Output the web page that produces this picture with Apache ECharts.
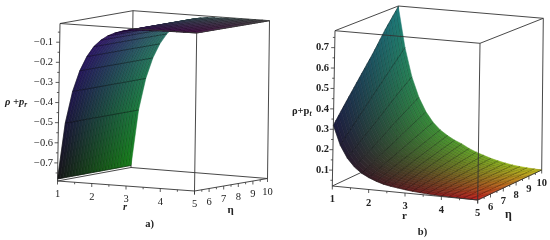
<!DOCTYPE html>
<html><head><meta charset="utf-8">
<style>html,body{margin:0;padding:0;background:#fff}#c{width:550px;height:240px;filter:blur(0.35px)}</style>
<script src="https://cdn.jsdelivr.net/npm/echarts@6/dist/echarts.min.js"></script>
</head><body><div id="c"></div>
<script>
// ---- values ----
const rValues = [1,1.2,1.4,1.6,1.8,2,2.2,2.4,2.6,2.8,3,3.2,3.4,3.6,3.8,4,4.2,4.4,4.6,4.8,5];
const rTicks = [1,2,3,4,5];
const etaTicks = [5,6,7,8,9,10];
const etaColumnsA = [5,10];
const etaColumnsB = [5,6,7,8,9,10];
const zTicksA = [-0.7,-0.6,-0.5,-0.4,-0.3,-0.2,-0.1];
const zTicksB = [0.1,0.2,0.3,0.4,0.5,0.6,0.7];
// panel a: rho + p_r against r (no visible change along eta)
const surfaceA = [-0.78,-0.50,-0.34,-0.235,-0.162,-0.11,-0.076,-0.052,-0.036,-0.025,-0.018,-0.014,-0.012,-0.011,-0.010,-0.009,-0.0085,-0.008,-0.0075,-0.0072,-0.007];
// panel b: rho + p_t, one row per r, one column per eta
const surfaceB = [
 [.32,.41,.50,.59,.69,.78],
 [.225,.295,.365,.435,.505,.575],
 [.165,.22,.27,.325,.38,.43],
 [.125,.165,.205,.25,.29,.33],
 [.098,.13,.162,.195,.228,.26],
 [.08,.106,.132,.158,.184,.21],
 [.066,.088,.11,.131,.153,.175],
 [.055,.074,.093,.112,.131,.15],
 [.048,.064,.081,.097,.114,.13],
 [.043,.057,.071,.086,.10,.115],
 [.038,.05,.062,.073,.084,.095],
 [.034,.044,.053,.062,.071,.08],
 [.031,.038,.046,.053,.061,.068],
 [.028,.034,.04,.045,.051,.056],
 [.026,.03,.035,.039,.043,.047],
 [.025,.028,.031,.033,.036,.039],
 [.024,.026,.028,.03,.031,.033],
 [.0235,.025,.026,.027,.028,.029],
 [.023,.024,.024,.025,.025,.026],
 [.0225,.023,.023,.023,.024,.024],
 [.022,.022,.022,.022,.022,.022]
];

// ---- view of each box: where its eight corners fall ----
const F = '"Liberation Serif","DejaVu Serif",serif';
const panels = [
 { rows: surfaceA.map(v => [v, v]), etas: etaColumnsA, strips: 25, zRange: [-0.79,-0.007], zTicks: zTicksA,
   zMinor: 0.05, zLabelX: 53, minus: true, gain: [105,60], ambient: 22, rowAlpha: 0.6, stripeAlpha: 0.42, bold: '',
   box: { b: [[57.5,181],[194.5,191],[267.5,178.5],[131,167.5]], t: [[60,23.5],[196.7,33],[269.5,20.7],[133,10.7]] },
   texts: [
    { text:'{m|\u03c1 +}{m|p}{s|r}', x:5, y:102 },
    { text:'{m|r}', x:125, y:207, align:'center' },
    { text:'\u03b7', x:230.5, y:210.5, align:'center', font:'bold 11px '+F },
    { text:'a)', x:149.5, y:224.5, align:'center', font:'bold 10.5px '+F }
   ] },
 { rows: surfaceB, etas: etaColumnsB, strips: 5, zRange: [0.022,0.783], zTicks: zTicksB,
   zMinor: 0.05, zLabelX: 329, minus: false, gain: [95,170], ambient: 28, rowAlpha: 0.45, stripeAlpha: 0.36, bold: 'bold ',
   box: { b: [[332.3,186],[477.7,200],[541.7,170],[396.3,156]], t: [[335,30.7],[480,43.3],[543.3,18.3],[398.3,6]] },
   texts: [
    { text:'{b|\u03c1+}{b|p}{t|t}', x:292, y:111.5 },
    { text:'r', x:404.5, y:216, align:'center', font:'bold 11px '+F },
    { text:'\u03b7', x:508.5, y:215, align:'center', font:'bold 12px '+F },
    { text:'b)', x:422.5, y:232.5, align:'center', font:'bold 10.5px '+F }
   ] }
];

const lerp = (a,b,t) => a + (b-a)*t;
function project(p, r, eta, z) {
  const u = (r-1)/4, v = (eta-5)/5, w = (z-p.zRange[0])/(p.zRange[1]-p.zRange[0]);
  const bi = c => [0,1].map(k => lerp(lerp(c[0][k],c[1][k],u), lerp(c[3][k],c[2][k],u), v));
  const a = bi(p.box.b), b = bi(p.box.t);
  return [lerp(a[0],b[0],w), lerp(a[1],b[1],w)];
}
const hex = x => Math.max(0,Math.min(255,Math.round(x)));
function shade(p, r, eta, z) {
  const u=(r-1)/4, v=(eta-5)/5, w=Math.max(0,(z-p.zRange[0])/(p.zRange[1]-p.zRange[0]));
  const g = lerp(p.gain[0],p.gain[1],u), a=p.ambient;
  return `rgb(${hex(a+g*u)},${hex(a+g*v)},${hex(a+g*w)})`;
}

function surfaceSeries(p) {
  const data = [];
  // painted from the far corner (low r, high eta) to the near corner
  for (let i=0;i<rValues.length-1;i++)
    for (let j=p.etas.length-2;j>=0;j--)
      for (let s=p.strips-1;s>=0;s--) data.push([i,j,s]);
  return { type:'custom', coordinateSystem:'cartesian2d', clip:false, silent:true, z:3, animation:false,
    data, encode:{x:0,y:1},
    renderItem(params, api) {
      const i=api.value(0), j=api.value(1), s=api.value(2);
      const pt = (ri,f) => {
        const eta = lerp(p.etas[j],p.etas[j+1],f);
        const z = lerp(p.rows[ri][j],p.rows[ri][j+1],f);
        return api.coord(project(p,rValues[ri],eta,z));
      };
      const f0=s/p.strips, f1=(s+1)/p.strips;
      const A=pt(i,f0),B=pt(i+1,f0),C=pt(i+1,f1),D=pt(i,f1);
      const mid=(f0+f1)/2;
      const etaM=lerp(p.etas[j],p.etas[j+1],mid);
      const c0=shade(p,rValues[i],etaM,lerp(p.rows[i][j],p.rows[i][j+1],mid));
      const c1=shade(p,rValues[i+1],etaM,lerp(p.rows[i+1][j],p.rows[i+1][j+1],mid));
      const m0=[(A[0]+D[0])/2,(A[1]+D[1])/2], m1=[(B[0]+C[0])/2,(B[1]+C[1])/2];
      const fill=new echarts.graphic.LinearGradient(m0[0],m0[1],m1[0],m1[1],
        [{offset:0,color:c0},{offset:1,color:c1}],true);
      return {type:'group',children:[
        {type:'polygon',shape:{points:[A,B,C,D]},style:{fill,stroke:fill,lineWidth:0.5}},
        {type:'line',shape:{x1:A[0],y1:A[1],x2:B[0],y2:B[1]},style:{stroke:`rgba(0,0,0,${p.stripeAlpha})`,lineWidth:1}},
        {type:'line',shape:{x1:A[0],y1:A[1],x2:D[0],y2:D[1]},style:{stroke:`rgba(0,0,0,${p.rowAlpha})`,lineWidth:0.8}}
      ]};
    } };
}

function lineSeries(segs, z, stroke, width) {
  return { type:'custom', coordinateSystem:'cartesian2d', clip:false, silent:true, z, animation:false,
    data: segs.map((s,i)=>[i,0]), encode:{x:0,y:1},
    renderItem(params, api) {
      const s=segs[api.value(0)], a=api.coord(s[0]), b=api.coord(s[1]);
      return {type:'line',shape:{x1:a[0],y1:a[1],x2:b[0],y2:b[1]},style:{stroke,lineWidth:width}};
    } };
}

function textSeries(items, z) {
  return { type:'custom', coordinateSystem:'cartesian2d', clip:false, silent:true, z, animation:false,
    data: items.map((s,i)=>[i,0]), encode:{x:0,y:1},
    renderItem(params, api) {
      const s=items[api.value(0)], a=api.coord([s.x,s.y]);
      return {type:'text',style:{text:s.text,x:a[0],y:a[1],align:s.align||'left',verticalAlign:'middle',
        font:s.font||('10.5px '+F),fill:s.fill||'#222',
        rich:{m:{font:'italic bold 10.5px '+F,fill:'#222'},s:{font:'italic bold 7.5px '+F,fill:'#222',verticalAlign:'bottom',padding:[6,0,0,0]},
              b:{font:'bold 10.5px '+F,fill:'#222'},t:{font:'italic bold 7.5px '+F,fill:'#222',padding:[6,0,0,0]}}}};
    } };
}

const series = [];
panels.forEach(p => {
  const [z0,z1]=p.zRange, P=(r,e,z)=>project(p,r,e,z);
  const back=[[P(1,10,z0),P(1,10,z1)],[P(1,10,z0),P(5,10,z0)],[P(1,5,z0),P(1,10,z0)],
              [P(1,5,z1),P(1,10,z1)],[P(1,10,z1),P(5,10,z1)],[P(5,10,z0),P(5,10,z1)]];
  const front=[[P(1,5,z1),P(5,5,z1)],[P(5,5,z1),P(5,10,z1)],[P(5,5,z0),P(5,5,z1)],
               [P(1,5,z0),P(5,5,z0)],[P(5,5,z0),P(5,10,z0)],[P(1,5,z0),P(1,5,z1)]];
  const ticks=[], labels=[];
  const minorZ=[];
  for (let k=Math.ceil(z0/p.zMinor);k*p.zMinor<=z1;k++) minorZ.push(k*p.zMinor);
  minorZ.forEach(z=>{
    const a=P(1,5,z), major=Math.abs(z*10-Math.round(z*10))<1e-6;
    ticks.push([a,[a[0]-(major?3.5:2),a[1]]]);
  });
  p.zTicks.forEach(z=>{
    const a=P(1,5,z);
    labels.push({text:(p.minus?'\u2212':'')+Math.abs(z).toFixed(1),x:p.zLabelX,y:a[1],align:'right',font:p.bold+'10.5px '+F});
  });
  rTicks.forEach((r,i)=>{
    const a=P(r,5,z0); ticks.push([a,[a[0],a[1]+3.5]]);
    if(i<rTicks.length-1){const m=P(r+.5,5,z0); ticks.push([m,[m[0],m[1]+2]]);}
    labels.push({text:String(r),x:a[0],y:a[1]+13.5,align:'center',font:p.bold+'10.5px '+F});
  });
  etaTicks.forEach((e,i)=>{
    const a=P(5,e,z0); ticks.push([a,[a[0],a[1]+3.5]]);
    if(i<etaTicks.length-1){const m=P(5,e+.5,z0); ticks.push([m,[m[0],m[1]+2]]);}
    if(e>5) labels.push({text:String(e),x:a[0],y:a[1]+13.5,align:'center',font:p.bold+'10.5px '+F});
  });
  series.push(lineSeries(back,1,'#333',0.9));
  series.push(surfaceSeries(p));
  series.push(lineSeries(front,5,'#333',0.9));
  series.push(lineSeries(ticks,5,'#333',0.8));
  series.push(textSeries(labels.concat(p.texts),6));
});

const chart = echarts.init(document.getElementById('c'),null,{renderer:'canvas'});
chart.setOption({
  animation:false, backgroundColor:'#fff',
  grid:{left:0,right:0,top:0,bottom:0},
  xAxis:{type:'value',min:0,max:550,show:false},
  yAxis:{type:'value',min:0,max:240,inverse:true,show:false},
  series
});
</script></body></html>
